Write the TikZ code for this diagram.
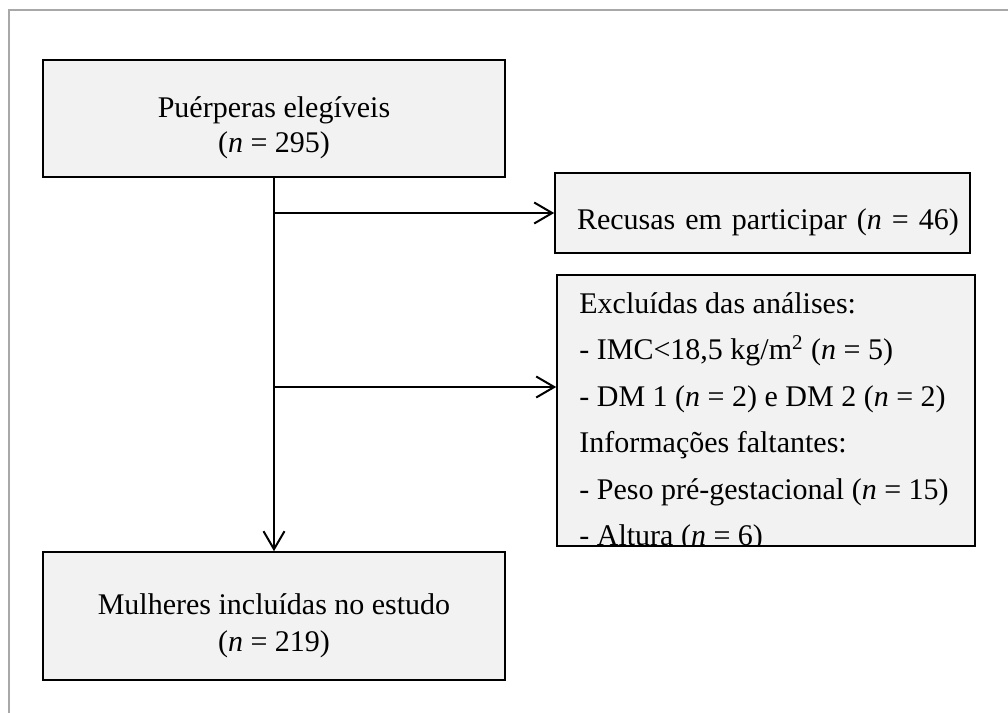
\documentclass[tikz,border=0pt]{standalone}
\usepackage{fontspec}
\setmainfont{Liberation Serif}
\usetikzlibrary{arrows.meta}

\definecolor{boxfill}{HTML}{F2F2F2}
\definecolor{framegray}{HTML}{A8A8A8}
\newcommand{\tstrut}{\rule{0pt}{20pt}}
\tikzset{
  flowbox/.style={draw, line width=0.8pt, fill=boxfill, inner sep=0pt},
  flowarrow/.style={line width=1pt, -{Straight Barb[length=9pt,width=10.5pt]}}
}

\begin{document}
\begin{tikzpicture}[x=0.5pt,y=-0.5pt]
  \useasboundingbox (0,0) rectangle (1008,713);
  \draw[framegray, line width=1pt] (8.5,713) -- (8.5,10) -- (1008,10);

  \node[flowbox, minimum width=231pt, minimum height=58.5pt, align=center,
    font=\fontsize{15}{17.5}\selectfont] (eleg) at (274,118.5)
    {\tstrut Puérperas elegíveis\\(\textit{n} = 295)};
  \node[flowbox, minimum width=207.5pt, minimum height=40pt, text width=185.5pt,
    inner xsep=11pt, align=left, font=\fontsize{15}{17.5}\selectfont] (rec) at (762.5,213)
    {\mbox{\tstrut Recusas em participar (\textit{n} = 46)}};
  \node[flowbox, minimum width=209pt, minimum height=135.5pt] (excl) at (766,410.5) {};
  \begin{scope}
    \clip ([shift={(0.4pt,-0.4pt)}]excl.north west) rectangle ([shift={(-0.4pt,0.4pt)}]excl.south east);
    \node[anchor=base west, align=left, inner sep=0pt,
      font=\fontsize{15}{23.25}\selectfont] (excltext) at (579,545.5)
      {Excluídas das análises:\\
       - IMC<18,5 kg/m\textsuperscript{2} (\textit{n} = 5)\\
       - DM 1 (\textit{n} = 2) e DM 2 (\textit{n} = 2)\\
       Informações faltantes:\\
       - Peso pré-gestacional (\textit{n} = 15)\\
       - Altura (\textit{n} = 6)};
  \end{scope}
  \node[flowbox, minimum width=231pt, minimum height=64pt, align=center,
    font=\fontsize{15}{18.5}\selectfont] (incl) at (274,616)
    {\tstrut Mulheres incluídas no estudo\\(\textit{n} = 219)};

  % fluxo principal e exclusoes
  \draw[flowarrow] (eleg.south) -- (incl.north);
  \draw[flowarrow] (eleg.south |- rec.west) -- (rec.west);
  \coordinate (split) at (274,387);
  \draw[flowarrow] (split) -- (split -| excl.west);
\end{tikzpicture}
\end{document}
